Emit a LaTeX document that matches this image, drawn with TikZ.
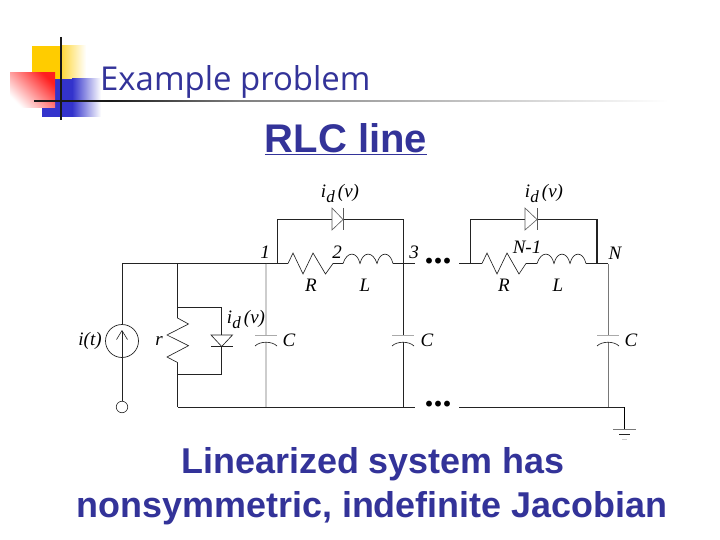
\documentclass[tikz,border=0pt]{standalone}
\usepackage{fontspec}
\usetikzlibrary{arrows.meta}
\setmainfont{Liberation Serif}
\newfontfamily\arialf{Liberation Sans}
\newfontfamily\titlef{Open Sans}
\definecolor{deckblue}{RGB}{51,51,153}
\definecolor{wire}{RGB}{35,35,35}
\definecolor{wiregray}{RGB}{120,120,120}
\definecolor{paleplate}{RGB}{170,170,170}
\definecolor{paleline}{RGB}{205,205,205}
\definecolor{logoyellow}{RGB}{255,204,0}
\definecolor{logoblue}{RGB}{51,51,204}
\definecolor{logored}{RGB}{255,30,30}
\tikzset{
  wireline/.style={draw=wire,line width=0.9pt},
  thinpart/.style={draw=wire,line width=0.65pt,line join=miter},
  lbl/.style={font=\itshape\fontsize{19}{19}\selectfont,inner sep=0pt,text=black},
  dotlbl/.style={font=\bfseries\fontsize{36}{36}\selectfont,inner sep=0pt,anchor=base,text=black},
}
\newcommand{\idv}{\textit{i}\raisebox{-4.5pt}{\textit{\fontsize{17}{17}\selectfont d}}\,\textit{(v)}}
\begin{document}
\begin{tikzpicture}[x=1pt,y=-1pt]
\useasboundingbox (0,0) rectangle (720,540);
\fill[white] (0,0) rectangle (720,540);
% logo
\fill[logoyellow] (32,46) rectangle (62,79);
\shade[left color=logoyellow!75,right color=white] (62,46) rectangle (86,79);
\fill[logoblue] (42,79) rectangle (72,117);
\shade[left color=logoblue,right color=white] (72,79) rectangle (101,117);
\shade[bottom color=white,top color=logored,shading angle=-45] (10,73) rectangle (55,108);
\draw[line width=2.2pt,draw=black!90] (61,37) -- (61,120);
\fill[black!90] (34,100.2) rectangle (110,102.2);
\shade[left color=black!90,right color=black!50] (110,100.4) rectangle (240,102);
\shade[left color=black!50,right color=white] (240,100.4) rectangle (668,102);
% titles
\node[anchor=base west,inner sep=0pt,text=deckblue,font=\titlef\fontsize{32.9}{34}\selectfont] (title) at (100,91) {Example problem};
\node[anchor=base,inner sep=0pt,text=deckblue,font=\arialf\bfseries\fontsize{40}{40}\selectfont] (sub) at (346,152.5) {\underline{RLC line}};
\node[anchor=base,inner sep=0pt,text=deckblue,font=\arialf\bfseries\fontsize{35.9}{36}\selectfont] (l1) at (373,473) {Linearized system has};
\node[anchor=base,inner sep=0pt,text=deckblue,font=\arialf\bfseries\fontsize{35.9}{36}\selectfont] (l2) at (372,517) {nonsymmetric, indefinite Jacobian};
% named junctions
\coordinate (n0) at (122,263.5);
\coordinate (nr) at (177.5,263.5);
\coordinate (n1) at (266,263.5);
\coordinate (br1) at (277.5,263.5);
\coordinate (rs1) at (288,263.5);
\coordinate (re1) at (333,263.5);
\coordinate (ls1) at (343,263.5);
\coordinate (le1) at (393,263.5);
\coordinate (n3) at (403,263.5);
\coordinate (w3) at (415,263.5);
\coordinate (wN) at (459,263.5);
\coordinate (br2) at (470,263.5);
\coordinate (rs2) at (482,263.5);
\coordinate (re2) at (526,263.5);
\coordinate (ls2) at (537,263.5);
\coordinate (le2) at (586,263.5);
\coordinate (nb) at (597,263.5);
\coordinate (nN) at (608,263.5);
\coordinate (g1) at (177.5,407);
\coordinate (gc1) at (266,407);
\coordinate (g3) at (403,407);
\coordinate (gw3) at (415,407);
\coordinate (gwN) at (459,407);
\coordinate (gN) at (608,407);
\coordinate (gg) at (624.5,407);
\coordinate (gt) at (624.5,429);
\coordinate (tip) at (122,330);
% source
\node[circle,draw=wire,line width=0.7pt,minimum size=33pt,inner sep=0pt] (src) at (122,341) {};
\node[circle,draw=wire,line width=0.6pt,minimum size=11.5pt,inner sep=0pt] (gnd0) at (122,407) {};
\draw[wireline] (src.north) -- (n0) -- (rs1);
\draw[wireline] (src.south) -- (gnd0.north);
\draw[thinpart,-{Straight Barb[length=9pt,width=11pt,line width=0.6pt]}] (src.south) -- (tip);
% r branch
\coordinate (rt) at (177.5,307.5);
\coordinate (rb) at (177.5,374);
\draw[wireline] (nr) -- (rt) -- (221.7,307.5) -- (221.7,335);
\draw[wireline] (221.7,346) -- (221.7,374) -- (rb) -- (g1);
\draw[thinpart] (rt) -- (177.5,318) -- (188.5,324) -- (167,335) -- (188.5,345.7) -- (167,357) -- (177.5,362.5) -- (rb);
% shunt diode
\draw[thinpart] (211,335) -- (232.5,335) -- (221.7,346.5) -- cycle;
\draw[thinpart] (211,346.5) -- (233,346.5);
% bottom rails
\draw[wireline] (g1) -- (gw3);
\draw[wireline] (gwN) -- (gg);
\draw[draw=black,line width=1pt] (gg) -- (gt);
\draw[draw=wiregray,line width=0.9pt] (613,429) -- (636,429);
\draw[draw=wire,line width=0.6pt] (619,434.5) -- (630,434.5);
\draw[draw=paleline,line width=0.6pt] (622,439) -- (627,439);
% caps
\draw[draw=paleline,line width=1.6pt] (n1) -- (266,335);
\draw[draw=paleline,line width=1.6pt] (266,342) -- (gc1);
\draw[draw=paleplate,line width=0.7pt] (255,335) -- (277,335);
\draw[thinpart] (255,346) .. controls (260,341) and (272,341) .. (277,346);
\draw[wireline] (n3) -- (403,335);
\draw[wireline] (403,342) -- (g3);
\draw[draw=paleplate,line width=0.7pt] (392,335) -- (414,335);
\draw[thinpart] (392,346) .. controls (397,341) and (409,341) .. (414,346);
\draw[draw=wiregray,line width=0.8pt] (nN) -- (608,335);
\draw[draw=wiregray,line width=0.8pt] (608,342) -- (gN);
\draw[draw=paleplate,line width=0.7pt] (597,335) -- (619,335);
\draw[thinpart] (597,346) .. controls (602,341) and (614,341) .. (619,346);
% section 1
\draw[thinpart] (rs1) -- (293,253) -- (303,274) -- (313,253) -- (325.5,274) -- (re1) -- (ls1);
\draw[thinpart] (ls1) .. controls (347,251) and (357,251) .. (360,263.5)
  .. controls (363,251) and (373,251) .. (377,263.5)
  .. controls (380,251) and (390,251) .. (le1);
\draw[wireline] (le1) -- (w3);
\draw[wireline] (br1) -- (277.5,219.5) -- (332,219.5);
\draw[wireline] (343,219.5) -- (403,219.5) -- (n3);
\draw[draw=black!65,line width=0.6pt] (332,208) -- (343,219.5) -- (332,230) -- cycle;
\draw[draw=black!65,line width=0.6pt] (343,208) -- (343,230);
% section N
\draw[wireline] (wN) -- (rs2);
\draw[thinpart] (rs2) -- (487,253) -- (497,274) -- (507,253) -- (519,274) -- (re2) -- (ls2);
\draw[thinpart] (ls2) .. controls (541,251) and (551,251) .. (554,263.5)
  .. controls (557,251) and (567,251) .. (570,263.5)
  .. controls (573,251) and (583,251) .. (le2);
\draw[wireline] (le2) -- (nN);
\draw[wireline] (br2) -- (470,219.5) -- (525,219.5);
\draw[wireline] (537,219.5) -- (597,219.5);
\draw[draw=wire,line width=1.2pt] (597,219.5) -- (nb);
\draw[draw=black!65,line width=0.6pt] (525,208) -- (537,219.5) -- (525,230) -- cycle;
\draw[draw=black!65,line width=0.6pt] (537,208) -- (537,230);
% labels
\node[lbl,anchor=center] (a1) at (340,193.5) {\idv};
\node[lbl,anchor=center] (a2) at (544,193.5) {\idv};
\node[lbl,anchor=center] (a3) at (246,319.5) {\idv};
\node[lbl] (b1) at (265,252) {1};
\node[lbl] (b2) at (337,252) {2};
\node[lbl] (b3) at (414,252) {3};
\node[lbl] (bn1) at (527,247) {N-1};
\node[lbl] (bn) at (615,253) {N};
\node[lbl] (rr1) at (311,285) {R};
\node[lbl] (ll1) at (365,285) {L};
\node[lbl] (rr2) at (504,285) {R};
\node[lbl] (ll2) at (558,285) {L};
\node[lbl] (cc1) at (289,340) {C};
\node[lbl] (cc2) at (427,340) {C};
\node[lbl] (cc3) at (631,340) {C};
\node[lbl] (rs) at (159,341) {r};
\node[lbl] (it) at (90,341) {i(t)};
\node[dotlbl] (d1) at (438,263.5) {...};
\node[dotlbl] (d2) at (438,406.5) {...};
\end{tikzpicture}
\end{document}
